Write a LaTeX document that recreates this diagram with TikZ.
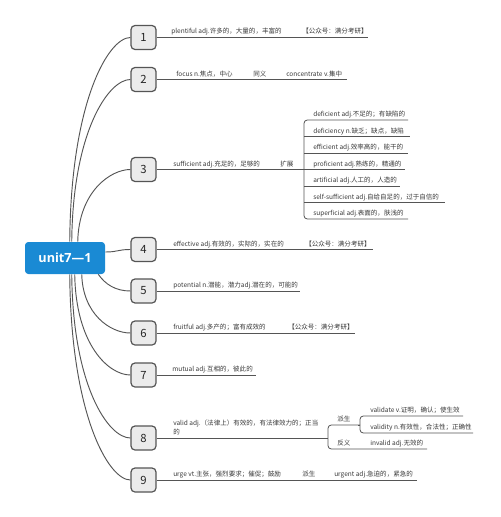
\documentclass[tikz,border=0pt]{standalone}
\usepackage{fontspec}
\setmainfont{Noto Sans CJK SC}
\newfontfamily\rootfont{Open Sans}
\usetikzlibrary{calc}
\definecolor{rootblue}{HTML}{1A8AD4}
\definecolor{linegray}{HTML}{555555}
\definecolor{boxfill}{HTML}{EBEBEB}
\definecolor{txtgray}{HTML}{3A3A3A}
\begin{document}
\begin{tikzpicture}[x=0.75pt,y=-0.75pt,
  numbox/.style={draw=linegray, fill=boxfill, line width=0.9pt, rounded corners=3pt,
    minimum width=18.75pt, minimum height=18pt, inner sep=0pt,
    font=\fontsize{8.5}{9}\selectfont, text=black!85},
  rootbox/.style={fill=rootblue, rounded corners=2.5pt, minimum width=60pt,
    minimum height=24pt, inner sep=0pt, text=white,
    font=\rootfont\bfseries\fontsize{9.5}{11}\selectfont},
  conn/.style={draw=linegray, line width=0.7pt},
  uline/.style={draw=linegray, line width=0.6pt},
  lbl/.style={anchor=base west, inner sep=0pt, font=\fontsize{4.9}{6.5}\selectfont, text=txtgray},
]
\fill[white] (0,0) rectangle (500,517);
\useasboundingbox (0,0) rectangle (500,517);

% root and numbered boxes
\node[rootbox] (root) at (65,258) {unit7—1};
\node[numbox] (b1) at (143.5,37.5) {1};
\node[numbox] (b2) at (143.5,79.5) {2};
\node[numbox] (b3) at (143.5,169.5) {3};
\node[numbox] (b4) at (143.5,249.5) {4};
\node[numbox] (b5) at (143.5,291) {5};
\node[numbox] (b6) at (143.5,333) {6};
\node[numbox] (b7) at (143.5,375) {7};
\node[numbox] (b8) at (143.5,438) {8};
\node[numbox] (b9) at (143.5,480) {9};

% connectors root -> boxes
\draw[conn] ($(root.north west)+(45,0)$) .. controls +(1,-140) and +(-22,0) .. (b1.west);
\draw[conn] ($(root.north west)+(47,0)$) .. controls +(1,-110) and +(-22,0) .. (b2.west);
\draw[conn] ($(root.north west)+(53,0)$) .. controls +(1,-50) and +(-20,0) .. (b3.west);
\draw[conn] ($(root.east)+(0,-6)$) .. controls +(13,0) and +(-13,0) .. (b4.west);
\draw[conn] ($(root.south east)+(-7,0)$) .. controls +(7,10) and +(-15,0) .. (b5.west);
\draw[conn] ($(root.south west)+(57,0)$) .. controls +(1,40) and +(-20,0) .. (b6.west);
\draw[conn] ($(root.south west)+(50,0)$) .. controls +(1,70) and +(-22,0) .. (b7.west);
\draw[conn] ($(root.south west)+(47,0)$) .. controls +(1,112) and +(-22,0) .. (b8.west);
\draw[conn] ($(root.south west)+(45,0)$) .. controls +(1,140) and +(-22,0) .. (b9.west);

% line ends
\coordinate (e1) at (368,37.5);
\coordinate (e2) at (347,79.5);
\coordinate (k3) at (304,169.5);
\coordinate (e4) at (373,249.5);
\coordinate (e5) at (300,291);
\coordinate (e6) at (355,333);
\coordinate (e7) at (256,375);
\coordinate (k8) at (328,438);
\coordinate (e9) at (417,480);

\draw[uline] (b1.east) -- (e1);
\draw[uline] (b2.east) -- (e2);
\draw[uline] (b3.east) -- (k3);
\draw[uline] (b4.east) -- (e4);
\draw[uline] (b5.east) -- (e5);
\draw[uline] (b6.east) -- (e6);
\draw[uline] (b7.east) -- (e7);
\draw[uline] (b8.east) -- (k8);
\draw[uline] (b9.east) -- (e9);

% texts
\node[lbl] (t1a) at (171,34) {plentiful adj.许多的，大量的，丰富的};
\node[lbl] (t1b) at (302,34) {【公众号：满分考研】};
\node[lbl] (t2a) at (176,76) {focus n.焦点，中心};
\node[lbl] (t2b) at (253,76) {同义};
\node[lbl] (t2c) at (286,76) {concentrate v.集中};
\node[lbl] (t3a) at (173,166) {sufficient adj.充足的，足够的};
\node[lbl] (t3b) at (280,166) {扩展};
\node[lbl] (t4a) at (173,246) {effective adj.有效的，实际的，实在的};
\node[lbl] (t4b) at (305,246) {【公众号：满分考研】};
\node[lbl] (t5a) at (173,287.5) {potential n.潜能，潜力adj.潜在的，可能的};
\node[lbl] (t6a) at (173,329.5) {fruitful adj.多产的；富有成效的};
\node[lbl] (t6b) at (288,329.5) {【公众号：满分考研】};
\node[lbl] (t7a) at (172,371.5) {mutual adj.互相的，彼此的};
\node[lbl] (t8a) at (173,425) {valid adj.（法律上）有效的，有法律效力的；正当};
\node[lbl] (t8b) at (173,434) {的};
\node[lbl] (t9a) at (173,476.5) {urge vt.主张，强烈要求；催促；鼓励};
\node[lbl] (t9b) at (302,476.5) {派生};
\node[lbl] (t9c) at (334,476.5) {urgent adj.急迫的，紧急的};

% item 3 bracket
\coordinate (s1) at (408,120);
\coordinate (s2) at (410,136.5);
\coordinate (s3) at (408,153);
\coordinate (s4) at (405,169.5);
\coordinate (s5) at (400,186);
\coordinate (s6) at (445,202.5);
\coordinate (s7) at (408,219);
\draw[uline, rounded corners=2.5pt] (s1) -- (304,120) -- (304,219) -- (s7);
\draw[uline] (304,136.5) -- (s2);
\draw[uline] (304,153) -- (s3);
\draw[uline] (k3) -- (s4);
\draw[uline] (304,186) -- (s5);
\draw[uline] (304,202.5) -- (s6);
\node[lbl] (u1) at (313,116.5) {deficient adj.不足的；有缺陷的};
\node[lbl] (u2) at (313,133) {deficiency n.缺乏；缺点，缺陷};
\node[lbl] (u3) at (313,149.5) {efficient adj.效率高的，能干的};
\node[lbl] (u4) at (313,166) {proficient adj.熟练的，精通的};
\node[lbl] (u5) at (313,182.5) {artificial adj.人工的，人造的};
\node[lbl] (u6) at (313,199) {self-sufficient adj.自给自足的，过于自信的};
\node[lbl] (u7) at (313,215.5) {superficial adj.表面的，肤浅的};

% item 8 brackets
\coordinate (p8) at (360,425);
\coordinate (v1) at (463,416);
\coordinate (v2) at (473,433);
\coordinate (f8) at (427,449);
\draw[uline, rounded corners=2.5pt] (p8) -- (328,425) -- (328,449) -- (f8);
\draw[uline, rounded corners=2.5pt] (v1) -- (360,416) -- (360,433) -- (v2);
\draw[uline] (358,425) -- (p8);
\node[lbl] (w1) at (337,421.5) {派生};
\node[lbl] (w2) at (370,412.5) {validate v.证明，确认；使生效};
\node[lbl] (w3) at (370,429.5) {validity n.有效性，合法性；正确性};
\node[lbl] (w4) at (337,445.5) {反义};
\node[lbl] (w5) at (370,445.5) {invalid adj.无效的};
\end{tikzpicture}
\end{document}
